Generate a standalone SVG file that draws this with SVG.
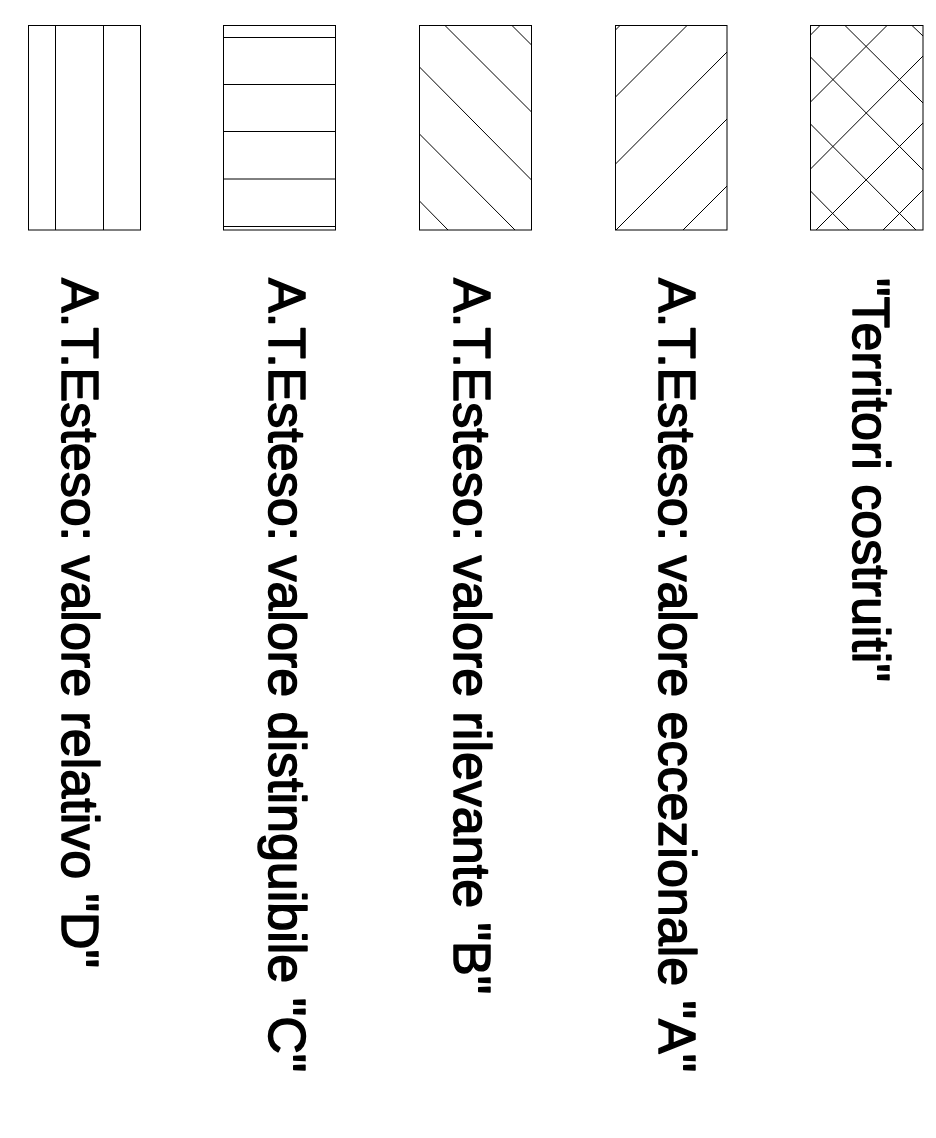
<svg xmlns="http://www.w3.org/2000/svg" width="936" height="1138" viewBox="0 0 936 1138">
<style>
.box{fill:none;stroke:#000;stroke-width:1}
.h{stroke:#000;stroke-width:1;fill:none}
.lbl{font-family:"Liberation Sans",Arial,Helvetica,sans-serif;font-size:52px;fill:#000;stroke:#000;stroke-width:1.5;stroke-linejoin:round}
</style>
<rect width="936" height="1138" fill="#fff"/>
<g id="legend-D">
<rect class="box" x="28.5" y="25.5" width="112" height="204.5"/>
<path class="h" d="M55.5 25.5V230M103.5 25.5V230"/>
<text class="lbl" transform="translate(62 278) rotate(90)">A.T.Esteso: valore relativo "D"</text>
</g>
<g id="legend-C">
<rect class="box" x="223.5" y="25.5" width="112" height="204.5"/>
<path class="h" d="M223.5 37.5H335.5M223.5 84.5H335.5M223.5 131.5H335.5M223.5 179H335.5M223.5 226.5H335.5"/>
<text class="lbl" transform="translate(268.5 278) rotate(90)">A.T.Esteso: valore distinguibile "C"</text>
</g>
<g id="legend-B">
<rect class="box" x="419.5" y="25.5" width="112" height="204.5"/>
<path class="h" d="M512 25.5L531.5 45M445 25.5L531.5 112M419.5 67L531.5 180M419.5 134L515 230M419.5 201L448 230"/>
<text class="lbl" transform="translate(453.5 278) rotate(90)">A.T.Esteso: valore rilevante "B"</text>
</g>
<g id="legend-A">
<rect class="box" x="615.5" y="25.5" width="111.5" height="204.5"/>
<path class="h" d="M615.5 30L620 25.5M615.5 97L687 25.5M615.5 164L727 52M616 230L727 119M683 230L727 186"/>
<text class="lbl" transform="translate(658.5 278) rotate(90)">A.T.Esteso: valore eccezionale "A"</text>
</g>
<g id="legend-territori">
<rect class="box" x="810.5" y="25.5" width="112.5" height="204.5"/>
<path class="h" d="M810.5 35L820 25.5M810.5 102L887 25.5M810.5 169L923 56M816 230L923 123M883 230L923 190"/>
<path class="h" d="M912 25.5L923 36M845 25.5L923 103M810.5 57L923 170M810.5 124L916 230M810.5 191L849 230"/>
<text class="lbl" transform="translate(852.7 278) rotate(90)">"Territori costruiti"</text>
</g>
</svg>
